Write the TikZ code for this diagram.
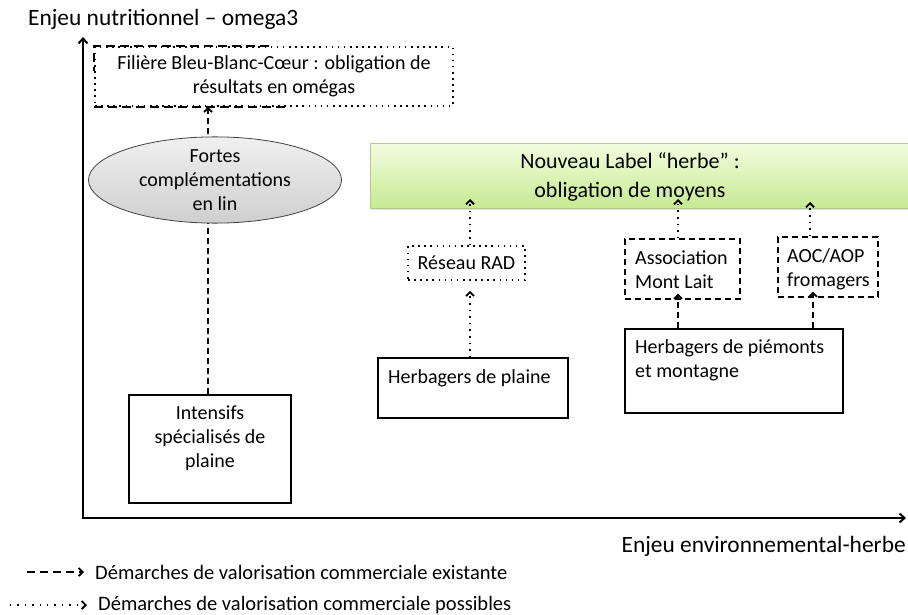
\documentclass[tikz,border=0pt]{standalone}
\usepackage{fontspec}
\setmainfont{Carlito}
\usetikzlibrary{arrows.meta,shapes.geometric,shadows}

\definecolor{herbetop}{HTML}{F2FCDF}
\definecolor{herbebot}{HTML}{C6EA92}
\definecolor{herbeline}{HTML}{B2CC88}

\tikzset{
  axe/.style={line width=2.6pt, -{Straight Barb[length=5pt,width=9pt,line width=2pt]}},
  boite/.style={draw, line width=1.4pt, inner sep=0pt},
  pointille/.style={draw, line width=1.6pt, dash pattern=on 1.6pt off 4.5pt},
  existe/.style={dashed, line width=1.4pt, dash pattern=on 6pt off 4pt, -{Straight Barb[length=4pt,width=8pt,line width=1.8pt]}},
  possible/.style={line width=1.6pt, dash pattern=on 1.6pt off 5pt, -{Straight Barb[length=4pt,width=8pt,line width=1.8pt]}},
  grand/.style={font=\fontsize{23.4}{26}\selectfont},
}

\begin{document}
\begin{tikzpicture}[x=1pt, y={(0pt,-1pt)}, font=\fontsize{20}{24}\selectfont]
\useasboundingbox (0,0) rectangle (908,615);

% Axes
\coordinate (origine) at (83,518);
\coordinate (haut) at (83,37);
\coordinate (droite) at (906,518);
\draw[axe, line cap=rect] (origine) -- (haut);
\draw[axe] (origine) -- (droite);
\node[grand, anchor=west, inner sep=0pt] (enjeuN) at (28,19) {Enjeu nutritionnel -- omega3};
\node[grand, anchor=east, inner sep=0pt] (enjeuE) at (906,546) {Enjeu environnemental-herbe};

% Filiere Bleu-Blanc-Coeur
\node[pointille, minimum width=358pt, minimum height=59pt, align=center] (bbc) at (274,76.5)
  {Filière Bleu-Blanc-Cœur : obligation de\\résultats en omégas};
\draw[line width=1.6pt, dash pattern=on 9pt off 5pt, draw=white] ([xshift=175pt]bbc.north west) -- (bbc.north west) -- ([yshift=-25pt]bbc.north west);
\draw[line width=1.6pt, dash pattern=on 9pt off 5pt] ([xshift=175pt]bbc.north west) -- (bbc.north west) -- ([yshift=-25pt]bbc.north west);
\draw[line width=1.6pt, dash pattern=on 9pt off 5pt] (bbc.south west) -- ([xshift=195pt]bbc.south west);

% Intensifs
\node[boite, minimum width=162pt, minimum height=108pt] (intensifs) at (210,449) {};
\node[align=center, anchor=north, inner sep=0pt] (intensifsT) at ([yshift=-11pt]intensifs.north) {Intensifs\\spécialisés de\\plaine};
\draw[existe] (intensifs.north -| 208,0) -- (bbc.south -| 208,0);

% Ellipse lin
\node[ellipse, draw=black!75, line width=0.8pt, top color=gray!12, bottom color=gray!38,
  minimum width=253pt, minimum height=77pt, inner sep=0pt, align=center] (lin) at (215,180)
  {Fortes\\complémentations\\en lin};

% Label herbe
\node[draw=herbeline, line width=1pt, top color=herbetop, bottom color=herbebot, drop shadow={opacity=0.25, shadow xshift=1pt, shadow yshift=-1.5pt},
  minimum width=545pt, minimum height=65pt, anchor=north west, align=center] (herbe) at (370,143) {};
\node[align=center, font=\fontsize{22}{29}\selectfont] (herbeT) at (630,177) {Nouveau Label “herbe” :\\obligation de moyens};

% Reseau RAD
\node[pointille, minimum width=117pt, minimum height=34pt] (rad) at (466.5,263) {Réseau RAD};
\node[boite, minimum width=190pt, minimum height=60pt] (plaine) at (473,388) {};
\node[anchor=west, inner sep=0pt] (plaineT) at (388,378) {Herbagers de plaine};
\draw[possible] (plaine.north -| 470,0) -- ([yshift=-10pt]rad.south -| 470,0);
\draw[possible] (rad.north -| 470,0) -- ([yshift=10pt]herbe.south -| 470,0);

% Mont Lait et AOC
\node[boite, dash pattern=on 6pt off 4pt, minimum width=115pt, minimum height=60pt] (montlait) at (682.5,269) {};
\node[anchor=north west, align=left, inner sep=0pt] (montlaitT) at (635,250) {Association\\Mont Lait};
\node[boite, dash pattern=on 6pt off 4pt, minimum width=100pt, minimum height=60pt] (aoc) at (828,267) {};
\node[anchor=north west, align=left, inner sep=0pt] (aocT) at (787,248) {AOC/AOP\\fromagers};
\node[boite, minimum width=218pt, minimum height=84pt] (piemont) at (734,371) {};
\node[anchor=north west, align=left, inner sep=0pt] (piemontT) at (635,339) {Herbagers de piémonts\\et montagne};

\draw[existe, line width=1.6pt, dash pattern=on 1.6pt off 5pt] (montlait.north -| 678,0) -- ([yshift=10pt]herbe.south -| 678,0);
\draw[existe, line width=1.6pt, dash pattern=on 1.6pt off 5pt] (aoc.north -| 810,0) -- ([yshift=7pt]herbe.south -| 810,0);
\draw[existe] (piemont.north -| 678,0) -- ([yshift=6pt]montlait.south -| 678,0);
\draw[existe] (piemont.north -| 813,0) -- ([yshift=6pt]aoc.south -| 813,0);

% Legende
\coordinate (legA1) at (27,572);
\coordinate (legA2) at (84,572);
\coordinate (legB1) at (10,605);
\coordinate (legB2) at (87,605);
\draw[existe, line width=1.8pt, dash pattern=on 8pt off 5pt] (legA1) -- (legA2);
\draw[possible, line width=1.4pt, dash pattern=on 1.4pt off 6pt] (legB1) -- (legB2);
\node[anchor=west, inner sep=0pt, font=\fontsize{20.5}{22}\selectfont] (legA) at (95,572) {Démarches de valorisation commerciale existante};
\node[anchor=west, inner sep=0pt, font=\fontsize{20.5}{22}\selectfont] (legB) at (98,605) {Démarches de valorisation commerciale possibles};

\end{tikzpicture}
\end{document}
